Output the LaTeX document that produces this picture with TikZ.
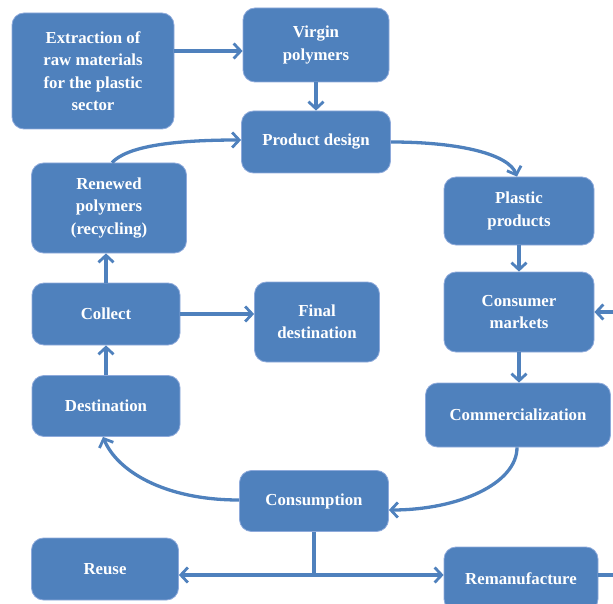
\documentclass[tikz,border=0pt]{standalone}
\usepackage{fontspec}
\setmainfont{Liberation Serif}
\usetikzlibrary{arrows.meta}
\definecolor{boxblue}{HTML}{4F81BD}
\definecolor{edgeblue}{HTML}{8EAADB}
\begin{document}
\begin{tikzpicture}[x=1pt,y=-1pt,
  box/.style={draw=edgeblue,line width=0.8pt,fill=boxblue,rounded corners=12pt,
    text=white,font=\fontsize{16.8}{22.5}\selectfont\bfseries,align=center,
    inner sep=0pt,anchor=center},
  conn/.style={draw=boxblue,line width=3.3pt,
    -{Straight Barb[length=7pt,width=15pt,line width=2.8pt]}},
  plain/.style={draw=boxblue,line width=3.3pt}]
\useasboundingbox (0,0) rectangle (613,604);
\node[box,minimum width=162pt,minimum height=116pt] (ext) at (93,71) {Extraction of\\raw materials\\for the plastic\\sector};
\node[box,minimum width=146pt,minimum height=74pt] (vp) at (316,45) {Virgin\\polymers};
\node[box,minimum width=149pt,minimum height=62pt] (pd) at (316,142) {Product design};
\node[box,minimum width=150pt,minimum height=68pt] (pp) at (519,211) {Plastic\\products};
\node[box,minimum width=150pt,minimum height=80pt] (cm) at (519,312) {Consumer\\markets};
\node[box,minimum width=185pt,minimum height=64pt] (com) at (518,415) {Commercialization};
\node[box,minimum width=149pt,minimum height=61pt] (cons) at (314,501) {Consumption};
\node[box,minimum width=147pt,minimum height=62pt] (reuse) at (105,569) {Reuse};
\node[box,minimum width=154pt,minimum height=64pt] (rem) at (521,579) {Remanufacture};
\node[box,minimum width=155pt,minimum height=90pt] (ren) at (109,208) {Renewed\\polymers\\(recycling)};
\node[box,minimum width=148pt,minimum height=62pt] (col) at (106,314) {Collect};
\node[box,minimum width=125pt,minimum height=80pt] (fin) at (317,322) {Final\\destination};
\node[box,minimum width=148pt,minimum height=61pt] (dest) at (106,406) {Destination};
\coordinate (rin) at (613,312);
\coordinate (rout) at (613,575);
\coordinate (split) at (314,575);

\draw[conn] (ext.east |- 0,51) -- (vp.west |- 0,51);
\draw[conn] (vp) -- (pd);
\draw[conn] (pd.east) .. controls +(70,0) and +(-8,-22) .. ([xshift=-2pt]pp.north);
\draw[conn] (pp) -- (cm);
\draw[conn] (cm) -- ([xshift=1pt]com.north);
\draw[conn] (rin) -- (cm.east);
\draw[conn] ([xshift=-1pt]com.south) .. controls +(0,36) and +(70,0) .. ([yshift=-9pt]cons.east);
\draw[conn] ([yshift=1pt]cons.west) .. controls +(-75,0) and +(14,34) .. ([xshift=-3pt]dest.south);
\draw[conn] (dest) -- (col);
\draw[conn] (col) -- (col.north |- ren.south);
\draw[conn] (col) -- (fin.west |- col);
\draw[conn] ([xshift=3pt]ren.north) .. controls +(15,-16) and +(-70,0) .. ([yshift=2pt]pd.west);
\draw[plain] (cons.south) -- (split);
\draw[conn] (split) -- (reuse.east |- split);
\draw[conn] (split) -- (rem.west |- split);
\draw[plain] (rem.east |- rout) -- (rout);
\end{tikzpicture}
\end{document}
